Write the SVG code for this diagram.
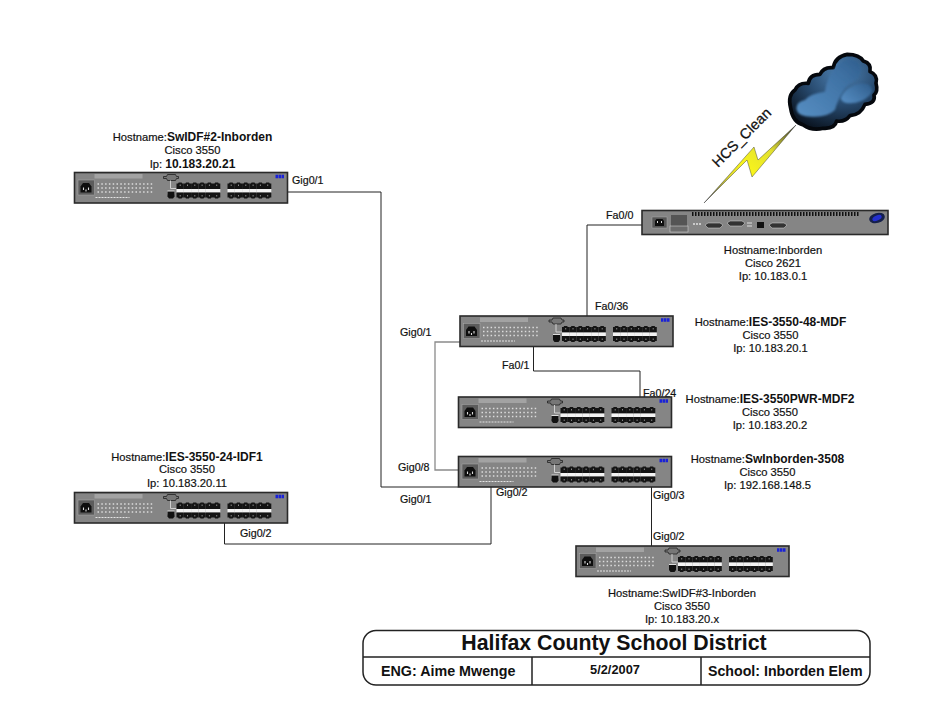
<svg xmlns="http://www.w3.org/2000/svg" width="940" height="727" viewBox="0 0 940 727">
<style>
text{font-family:"Liberation Sans",Arial,sans-serif;font-size:11.200px;fill:#111;stroke:#111;stroke-width:.2}
.p{font-size:10.700px}
.c{text-anchor:middle}
.b{font-weight:bold;font-size:12px;stroke-width:0}
.tb{font-weight:bold;stroke-width:0}
.conn{fill:none;stroke:#222;stroke-width:1}
.gray{stroke:#8a8a8a;stroke-width:1.3}
.body{fill:#858585;stroke:#2a2a2a;stroke-width:1.6}
.frame{fill:none;stroke:#222;stroke-width:1.5}
</style>
<defs>
<filter id="soft" x="-20%" y="-20%" width="140%" height="140%"><feGaussianBlur stdDeviation="3"/></filter>
<radialGradient id="cg" cx="0.6" cy="0.25" r="0.85"><stop offset="0" stop-color="#4f83b5"/><stop offset="0.5" stop-color="#27496d"/><stop offset="1" stop-color="#070e18"/></radialGradient>
<linearGradient id="pf" x1="0" y1="1" x2="1" y2="0"><stop offset="0" stop-color="#5f9bd3"/><stop offset="1" stop-color="#2f5e8e"/></linearGradient>
<linearGradient id="bolt" x1="0" y1="1" x2="1" y2="0"><stop offset="0" stop-color="#444"/><stop offset="0.3" stop-color="#d8d430"/><stop offset="0.45" stop-color="#f8f41a"/><stop offset="0.7" stop-color="#e2e030"/><stop offset="1" stop-color="#333"/></linearGradient>
<g id="port">
<path d="M0 0.500h1.500l.7-1h2.900l.7 1h1.500v5.500h-7.300z" fill="#141414"/>
<rect x="0" y="6" width="7.300" height="3.600" fill="#f4f4f4"/>
<path d="M0 9.600h7.300v5h-1.500l-.7 1h-2.900l-.7-1h-1.500z" fill="#141414"/>
<path d="M3.200 1.500h1v1.500h-1zM3.200 12h1v1.500h-1z" fill="#888"/>
</g>
<g id="pb">
<use href="#port" x="0"/><use href="#port" x="7.300"/><use href="#port" x="14.600"/><use href="#port" x="21.900"/><use href="#port" x="29.200"/><use href="#port" x="36.500"/>
</g>
<g id="switch">
<rect class="body" x="0" y="0" width="213" height="30.500"/>
<rect x="20" y="1.500" width="48" height="4.500" fill="#a3a3a3"/>
<rect x="3.500" y="7.500" width="16.500" height="15" fill="#5c5c5c" stroke="#aaa" stroke-width=".5"/>
<path d="M6 20v-6l2.500-3.500h6l2.500 3.500v6z" fill="#0e0e0e"/>
<path d="M9 15v2.500M14 15v2.500M11.500 17v2" stroke="#ddd" stroke-width="1.100"/>
<path d="M23 11.500h55M23 15.500h55M23 19.500h55" stroke="#dcdcdc" stroke-width="1.500" stroke-dasharray="1.500 2.300"/>
<path d="M21 25h12M33 25h22" stroke="#e4e4e4" stroke-width="1.200" stroke-dasharray="2 1"/>
<path d="M89 4h3l1-2h8l1 2h2v2h-2l-1 2h-8l-1-2h-3z" fill="#777" stroke="#222" stroke-width=".8"/>
<path d="M96 8v8h6" fill="none" stroke="#cfcfcf" stroke-width="1"/>
<rect x="93" y="18" width="7" height="4" fill="#ddd"/>
<path d="M93 19h7v5l-1.500 2h-4l-1.500-2z" fill="#111"/>
<use href="#pb" x="102" y="10.500"/>
<use href="#pb" x="153" y="10.500"/>
<path d="M201 4h9" stroke="#1a22d8" stroke-width="3.500" stroke-dasharray="2.500 .5"/>
</g>
</defs>

<g id="connectors">
<path class="conn" d="M288 192H381V487H458"/>
<path class="conn gray" d="M460 342H435V470H458"/>
<path class="conn" d="M533.500 346V371H640V397"/>
<path class="conn" d="M642 225H587V316"/>
<path class="conn" d="M491 486V544H224.500V523"/>
<path class="conn" d="M651.500 486V546"/>
</g>

<g id="port-labels">
<text class="p" x="292" y="184">Gig0/1</text>
<text class="p" x="606" y="219">Fa0/0</text>
<text class="p" x="595" y="310">Fa0/36</text>
<text class="p" x="400" y="336">Gig0/1</text>
<text class="p" x="502" y="369">Fa0/1</text>
<text class="p" x="643" y="397">Fa0/24</text>
<text class="p" x="398" y="471">Gig0/8</text>
<text class="p" x="496" y="496">Gig0/2</text>
<text class="p" x="653" y="499">Gig0/3</text>
<text class="p" x="400" y="503">Gig0/1</text>
<text class="p" x="240" y="537">Gig0/2</text>
<text class="p" x="653" y="540">Gig0/2</text>
</g>

<g id="cloud">
<path fill="url(#bolt)" stroke="#222" stroke-width=".4" d="M704 203L754 147L758 160L796 125L752 177L747 160Z"/>
<text x="0" y="0" transform="translate(718 168) rotate(-45)" style="font-size:14.500px;stroke-width:.25">HCS_Clean</text>
<g transform="translate(770 45) scale(.3333)">
<path fill="url(#cg)" stroke="#05080d" stroke-width="11" stroke-linejoin="round" d="M62 190Q52 150 75 135Q85 112 115 115Q118 88 150 88Q160 65 190 68Q195 35 232 28Q268 28 280 48Q305 55 300 80Q325 90 318 115Q325 140 312 150Q318 175 285 178Q272 210 240 212Q225 232 200 228Q195 252 160 250Q125 258 100 240Q68 232 62 190Z"/>
<path filter="url(#soft)" fill="url(#pf)" d="M80 195Q75 172 105 165Q120 145 165 140Q170 100 195 70Q225 35 250 45Q285 55 265 100Q240 110 225 130Q200 170 195 195Q170 218 125 215Q85 215 80 195Z" opacity=".9"/>
<path filter="url(#soft)" fill="url(#pf)" d="M212 160Q220 135 245 125Q265 110 295 118Q315 135 300 150Q275 175 240 175Q215 175 212 160Z" opacity=".85"/>
</g>
</g>

<g id="router-inborden">
<rect class="body" x="642" y="210.500" width="246" height="24"/>
<path d="M692 214H860" stroke="#111" stroke-width="4" stroke-dasharray="1.500 1.500"/>
<rect x="652" y="217" width="15" height="11" fill="#555" stroke="#aaa" stroke-width=".5"/>
<path d="M655 226v-5l1.500-2h6l1.500 2v5z" fill="#0e0e0e"/>
<path d="M657.500 221v2M661.500 221v2" stroke="#ddd"/>
<rect x="671" y="215" width="16" height="11" fill="#555"/>
<rect x="670" y="226" width="18" height="6" fill="#6c6c6c" stroke="#ddd" stroke-width=".5"/>
<path d="M693 224h9" stroke="#e0e0e0" stroke-width="1.500" stroke-dasharray="2 1"/>
<path d="M705 225l3-2h12l3 2-3 3h-12z" fill="#333" stroke="#ddd" stroke-width=".5"/>
<path d="M727 223l3-2h12l3 2-3 3h-12z" fill="#333" stroke="#ddd" stroke-width=".5"/>
<path d="M747 223h5M747 226h5" stroke="#ddd" stroke-width="1"/>
<rect x="757" y="222" width="7" height="6" fill="#111"/>
<path d="M769 225l3-2h12l3 2-3 3h-12z" fill="#333" stroke="#ddd" stroke-width=".5"/>
<ellipse cx="877" cy="218" rx="8" ry="5" transform="rotate(-15 877 218)" fill="#15204a"/>
<ellipse cx="877" cy="218" rx="5" ry="2.500" transform="rotate(-25 877 218)" fill="#2430d0"/>
<text class="c" x="773" y="254">Hostname:Inborden</text>
<text class="c" x="773" y="267">Cisco 2621</text>
<text class="c" x="773" y="280">Ip: 10.183.0.1</text>
</g>

<g id="switch-idf2">
<use href="#switch" x="74.500" y="172.500"/>
<text class="c" x="192.500" y="141">Hostname:<tspan class="b">SwIDF#2-Inborden</tspan></text>
<text class="c" x="192.500" y="154">Cisco 3550</text>
<text class="c" x="192.500" y="168">Ip: <tspan class="b">10.183.20.21</tspan></text>
</g>

<g id="switch-mdf">
<use href="#switch" x="460" y="316"/>
<text class="c" x="770.500" y="326">Hostname:<tspan class="b">IES-3550-48-MDF</tspan></text>
<text class="c" x="770.500" y="339">Cisco 3550</text>
<text class="c" x="770.500" y="352">Ip: 10.183.20.1</text>
</g>

<g id="switch-mdf2">
<use href="#switch" x="458.500" y="397"/>
<text class="c" x="770" y="403">Hostname:<tspan class="b">IES-3550PWR-MDF2</tspan></text>
<text class="c" x="770" y="416">Cisco 3550</text>
<text class="c" x="770" y="429">Ip: 10.183.20.2</text>
</g>

<g id="switch-3508">
<use href="#switch" x="458.500" y="456.500"/>
<text class="c" x="767.500" y="463">Hostname:<tspan class="b">SwInborden-3508</tspan></text>
<text class="c" x="767.500" y="476">Cisco 3550</text>
<text class="c" x="767.500" y="489">Ip: 192.168.148.5</text>
</g>

<g id="switch-idf1">
<use href="#switch" x="74.500" y="492.500"/>
<text class="c" x="187" y="461">Hostname:<tspan class="b">IES-3550-24-IDF1</tspan></text>
<text class="c" x="187" y="473">Cisco 3550</text>
<text class="c" x="187" y="487">Ip: 10.183.20.11</text>
</g>

<g id="switch-idf3">
<use href="#switch" x="576" y="546"/>
<text class="c" x="682" y="597">Hostname:SwIDF#3-Inborden</text>
<text class="c" x="682" y="610">Cisco 3550</text>
<text class="c" x="682" y="623">Ip: 10.183.20.x</text>
</g>

<g id="title-block">
<rect class="frame" x="363" y="630.500" width="507" height="54.500" rx="13"/>
<path class="frame" d="M363 657H870M532 657V685M701 657V685"/>
<text class="c tb" x="614" y="650" style="font-size:21.300px">Halifax County School District</text>
<text class="tb" x="381" y="676" style="font-size:14.300px">ENG: Aime Mwenge</text>
<text class="c tb" x="615" y="674" style="font-size:12.800px">5/2/2007</text>
<text class="tb" x="708" y="676" style="font-size:14.200px">School: Inborden Elem</text>
</g>
</svg>
